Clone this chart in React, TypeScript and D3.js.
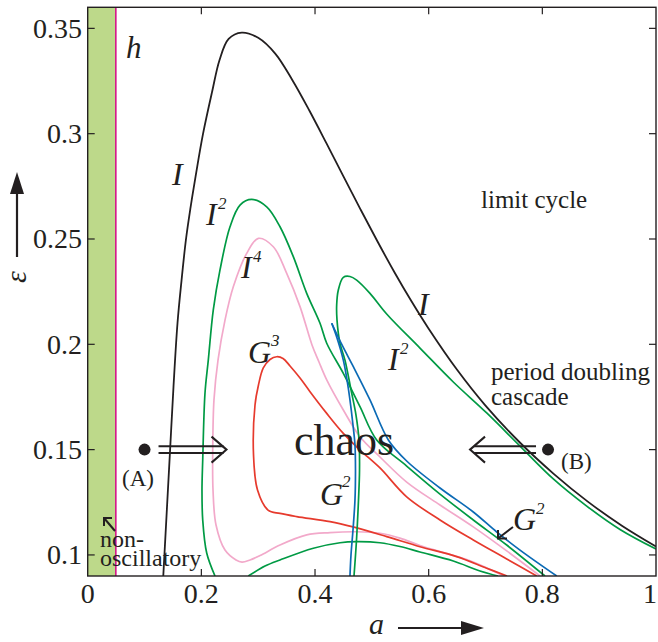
import React from 'react';
import * as d3 from 'd3';

type P = [number, number];

const xTicks = [0.2, 0.4, 0.6, 0.8];
const xTickLabelValues = [0, 0.2, 0.4, 0.6, 0.8, 1];
const xTickLabels = ['0', '0.2', '0.4', '0.6', '0.8', '1'];
const yTicks = [0.1, 0.15, 0.2, 0.25, 0.3, 0.35];
const yTickLabels = ['0.1', '0.15', '0.2', '0.25', '0.3', '0.35'];

const hLineA = 0.0495;
const pointA: P = [0.1, 0.15];
const pointB: P = [0.81, 0.15];

const curveI: P[] = [
  [0.133, 0.09], [0.139, 0.12], [0.145, 0.15], [0.151, 0.18], [0.158, 0.21], [0.165, 0.23],
  [0.173, 0.25], [0.181, 0.265], [0.19, 0.28], [0.203, 0.3], [0.219, 0.32], [0.232, 0.335],
  [0.248, 0.345], [0.271, 0.348], [0.3, 0.3455], [0.33, 0.338], [0.36, 0.3255], [0.39, 0.311],
  [0.42, 0.2955], [0.45, 0.2797], [0.48, 0.2641], [0.51, 0.2488], [0.54, 0.2341], [0.57, 0.2203],
  [0.6, 0.2074], [0.65, 0.1879], [0.7, 0.1709], [0.76, 0.1535], [0.82, 0.1385], [0.88, 0.1253],
  [0.94, 0.1139], [1.0, 0.104],
];

const curveI2Left: P[] = [
  [0.224, 0.09], [0.2094, 0.1009], [0.2024, 0.1166], [0.2011, 0.1308], [0.2024, 0.1451],
  [0.2064, 0.1769], [0.2122, 0.1925], [0.221, 0.2163], [0.2328, 0.2353], [0.2504, 0.2558],
  [0.268, 0.2661], [0.2886, 0.2688], [0.315, 0.2653], [0.3384, 0.2558], [0.3618, 0.2416],
  [0.3854, 0.2242], [0.4088, 0.21], [0.4206, 0.2005], [0.4498, 0.1862], [0.4791, 0.1704],
  [0.5085, 0.1546], [0.5613, 0.1422], [0.6199, 0.1289], [0.6785, 0.1166], [0.7373, 0.1047],
  [0.8047, 0.09],
];

const curveI2Right: P[] = [
  [0.4686, 0.09], [0.473, 0.1071], [0.4765, 0.1261], [0.4783, 0.1403], [0.4774, 0.1546],
  [0.4721, 0.1664], [0.4634, 0.1783], [0.4527, 0.1925], [0.4439, 0.2005], [0.4387, 0.2115],
  [0.4381, 0.2187], [0.441, 0.2258], [0.4498, 0.2318], [0.4615, 0.2322], [0.4733, 0.2305],
  [0.4967, 0.2242], [0.5261, 0.2144], [0.5847, 0.1982], [0.6433, 0.1821], [0.7021, 0.1674],
  [0.7607, 0.1517], [0.8193, 0.1361], [0.8781, 0.1232], [0.9367, 0.1121], [1.0, 0.1028],
];

const curveI2Bottom: P[] = [
  [0.2826, 0.09], [0.312, 0.0947], [0.3384, 0.0976], [0.397, 0.1032], [0.444, 0.1058],
  [0.4733, 0.1063], [0.5143, 0.1058], [0.5495, 0.104], [0.5847, 0.1014], [0.6433, 0.0971],
  [0.6903, 0.0924], [0.722, 0.09],
];

const curveI4: P[] = [
  [0.7326, 0.09], [0.6727, 0.0972], [0.6199, 0.1016], [0.5847, 0.1045], [0.5495, 0.108],
  [0.5143, 0.1103], [0.4733, 0.111], [0.4264, 0.1106], [0.3854, 0.1095], [0.3384, 0.1047],
  [0.3032, 0.0997], [0.2856, 0.0976], [0.2715, 0.0966], [0.261, 0.0976], [0.2416, 0.1023],
  [0.2258, 0.1142], [0.2205, 0.1308], [0.22, 0.1498], [0.2222, 0.1736], [0.2293, 0.1925],
  [0.2416, 0.2115], [0.2562, 0.2273], [0.2798, 0.2432], [0.3002, 0.2503], [0.3266, 0.2463],
  [0.3502, 0.2337], [0.3736, 0.2179], [0.3947, 0.1997], [0.407, 0.1916], [0.4206, 0.1831],
  [0.4498, 0.1688], [0.4791, 0.1561], [0.5143, 0.1465], [0.5613, 0.1346], [0.6199, 0.1237],
  [0.6785, 0.1133], [0.7373, 0.1019], [0.7959, 0.09],
];

const curveG3: P[] = [
  [0.7379, 0.09], [0.7021, 0.0937], [0.6493, 0.0992], [0.5847, 0.1039], [0.5261, 0.1087],
  [0.4668, 0.1133], [0.4264, 0.1158], [0.3678, 0.1182], [0.3384, 0.1197], [0.3173, 0.1213],
  [0.2988, 0.1308], [0.2918, 0.1474], [0.2944, 0.1712], [0.3005, 0.1807], [0.309, 0.1888],
  [0.3208, 0.1928], [0.3326, 0.1941], [0.3437, 0.1933], [0.356, 0.1897], [0.3736, 0.184],
  [0.3912, 0.1775], [0.4206, 0.1672], [0.4498, 0.1577], [0.4791, 0.1498], [0.5143, 0.1413],
  [0.5613, 0.1276], [0.6199, 0.1166], [0.6785, 0.1071], [0.7373, 0.0981], [0.7901, 0.09],
];

const curveG2Steep: P[] = [
  [0.4294, 0.21], [0.4387, 0.203], [0.4498, 0.1925], [0.4563, 0.1831], [0.4615, 0.1736],
  [0.4668, 0.1617], [0.4703, 0.1522], [0.4712, 0.1403], [0.4703, 0.1261], [0.4668, 0.1118],
  [0.4633, 0.1], [0.4615, 0.09],
];

const curveG2Shallow: P[] = [
  [0.4294, 0.21], [0.4475, 0.1997], [0.4674, 0.1894], [0.4967, 0.1736], [0.529, 0.1546],
  [0.5613, 0.1446], [0.6199, 0.1318], [0.6785, 0.1204], [0.7197, 0.1109], [0.7607, 0.1023],
  [0.8253, 0.09],
];

const W = 658;
const H = 642;
const left = 87.7, right = 656, top = 7.3, bottom = 576;

const C = {
  black: '#231f20',
  green: '#009a44',
  pink: '#f2a9ca',
  red: '#e63a2d',
  blue: '#0b6ab5',
  magenta: '#d4168a',
  band: '#bdd98a',
};

const serif = '"Liberation Serif", "DejaVu Serif", serif';

export default function App() {
  const x = d3.scaleLinear().domain([0, 1]).range([left, right]);
  const y = d3.scaleLinear().domain([0.09, 0.36]).range([bottom, top]);
  const line = d3
    .line<P>()
    .x((d) => x(d[0]))
    .y((d) => y(d[1]))
    .curve(d3.curveCatmullRom.alpha(0.5));

  const curves: { d: P[]; c: string; w: number }[] = [
    { d: curveI2Bottom, c: C.green, w: 1.7 },
    { d: curveI4, c: C.pink, w: 1.7 },
    { d: curveG3, c: C.red, w: 1.7 },
    { d: curveI2Left, c: C.green, w: 1.7 },
    { d: curveI2Right, c: C.green, w: 1.7 },
    { d: curveG2Steep, c: C.blue, w: 1.7 },
    { d: curveG2Shallow, c: C.blue, w: 1.7 },
    { d: curveI, c: C.black, w: 1.8 },
  ];

  const ax = x(pointA[0]), ay = y(pointA[1]);
  const bx = x(pointB[0]), by = y(pointB[1]);
  const tick = 7;

  const it = { fontFamily: serif, fontStyle: 'italic' as const, fill: C.black };
  const rm = { fontFamily: serif, fill: C.black };

  return (
    <svg width={W} height={H} style={{ position: 'absolute', left: 0, top: 0, background: '#fff' }}>
      <defs>
        <clipPath id="plotClip">
          <rect x={left} y={top} width={right - left} height={bottom - top} />
        </clipPath>
      </defs>
      <rect x={0} y={0} width={W} height={H} fill="#fff" />
      <rect x={x(0)} y={top} width={x(hLineA) - x(0)} height={bottom - top} fill={C.band} />
      <line x1={x(hLineA)} x2={x(hLineA)} y1={top} y2={bottom} stroke={C.magenta} strokeWidth={1.6} />

      <g clipPath="url(#plotClip)" fill="none">
        {curves.map((c, i) => (
          <path key={i} d={line(c.d) || ''} stroke={c.c} strokeWidth={c.w} />
        ))}
      </g>

      {/* frame */}
      <rect x={left} y={top} width={right - left} height={bottom - top} fill="none" stroke={C.black} strokeWidth={1.4} />
      {xTicks.map((t) => (
        <g key={'xt' + t} stroke={C.black} strokeWidth={1.2}>
          <line x1={x(t)} x2={x(t)} y1={bottom} y2={bottom - tick} />
          <line x1={x(t)} x2={x(t)} y1={top} y2={top + tick} />
        </g>
      ))}
      {yTicks.map((t) => (
        <g key={'yt' + t} stroke={C.black} strokeWidth={1.2}>
          <line x1={left} x2={left + tick} y1={y(t)} y2={y(t)} />
          <line x1={right} x2={right - tick} y1={y(t)} y2={y(t)} />
        </g>
      ))}
      {xTickLabelValues.map((t, i) => (
        <text
          key={'xl' + t}
          x={t === 1 ? 657 : x(t)}
          y={603}
          textAnchor={t === 1 ? 'end' : 'middle'}
          fontSize={28}
          {...rm}
        >
          {xTickLabels[i]}
        </text>
      ))}
      {yTicks.map((t, i) => (
        <text key={'yl' + t} x={82} y={y(t) + 9.5} textAnchor="end" fontSize={28} {...rm}>
          {yTickLabels[i]}
        </text>
      ))}

      {/* axis titles with arrows */}
      <text x={369} y={634} fontSize={30} {...it}>a</text>
      <line x1={398} x2={465} y1={628} y2={628} stroke={C.black} strokeWidth={2.2} />
      <polygon points="461,621 484,628 461,635" fill={C.black} />
      <text
        transform="translate(15,277) rotate(-90)"
        textAnchor="middle"
        dominantBaseline="central"
        fontSize={30}
        {...it}
      >
        ε
      </text>
      <line x1={17} x2={17} y1={257} y2={190} stroke={C.black} strokeWidth={2.2} />
      <polygon points="10,194 17,172 24,194" fill={C.black} />

      {/* curve labels */}
      <text x={126} y={58} fontSize={31} {...it}>h</text>
      <text x={172} y={185} fontSize={32} {...it}>I</text>
      <text x={206} y={225} fontSize={32} {...it}>I</text>
      <text x={218} y={209} fontSize={17} {...it}>2</text>
      <text x={241} y={278} fontSize={32} {...it}>I</text>
      <text x={253} y={262} fontSize={17} {...it}>4</text>
      <text x={248} y={363} fontSize={32} {...it}>G</text>
      <text x={271} y={346} fontSize={17} {...it}>3</text>
      <text x={320} y={505} fontSize={32} {...it}>G</text>
      <text x={342} y={487} fontSize={17} {...it}>2</text>
      <text x={388} y={370} fontSize={32} {...it}>I</text>
      <text x={400} y={354} fontSize={17} {...it}>2</text>
      <text x={418} y={315} fontSize={32} {...it}>I</text>
      <text x={513} y={530} fontSize={32} {...it}>G</text>
      <text x={536} y={514} fontSize={17} {...it}>2</text>

      {/* region labels */}
      <text x={481} y={208} fontSize={25} {...rm}>limit cycle</text>
      <text x={491} y={380} fontSize={25} {...rm}>period doubling</text>
      <text x={491} y={405} fontSize={25} {...rm}>cascade</text>
      <text x={294} y={455} fontSize={44} {...rm}>chaos</text>
      <text x={122} y={486} fontSize={23} {...rm}>(A)</text>
      <text x={561} y={469} fontSize={23} {...rm}>(B)</text>
      <text x={100} y={547} fontSize={24} {...rm}>non-</text>
      <text x={100} y={566} fontSize={24} {...rm}>oscillatory</text>

      {/* small arrows */}
      <g stroke={C.black} strokeWidth={2} fill="none">
        <line x1={115} y1={531} x2={104} y2={518} />
        <polyline points="112,518 104,518 104,526" />
        <line x1={513} y1={527} x2={498} y2={538.5} />
        <polyline points="498,530 498,538.5 507,538.5" />
      </g>

      {/* A and B points with double arrows */}
      <circle cx={ax} cy={ay} r={6} fill={C.black} />
      <g stroke={C.black} strokeWidth={2} fill="none">
        <line x1={ax + 14} x2={ax + 79} y1={ay - 3.4} y2={ay - 3.4} />
        <line x1={ax + 14} x2={ax + 79} y1={ay + 3.4} y2={ay + 3.4} />
        <polyline points={`${ax + 67},${ay - 13} ${ax + 82},${ay} ${ax + 67},${ay + 13}`} />
      </g>
      <circle cx={bx} cy={by} r={6} fill={C.black} />
      <g stroke={C.black} strokeWidth={2} fill="none">
        <line x1={bx - 12} x2={bx - 74} y1={by - 3.4} y2={by - 3.4} />
        <line x1={bx - 12} x2={bx - 74} y1={by + 3.4} y2={by + 3.4} />
        <polyline points={`${bx - 63},${by - 13} ${bx - 78},${by} ${bx - 63},${by + 13}`} />
      </g>
    </svg>
  );
}
